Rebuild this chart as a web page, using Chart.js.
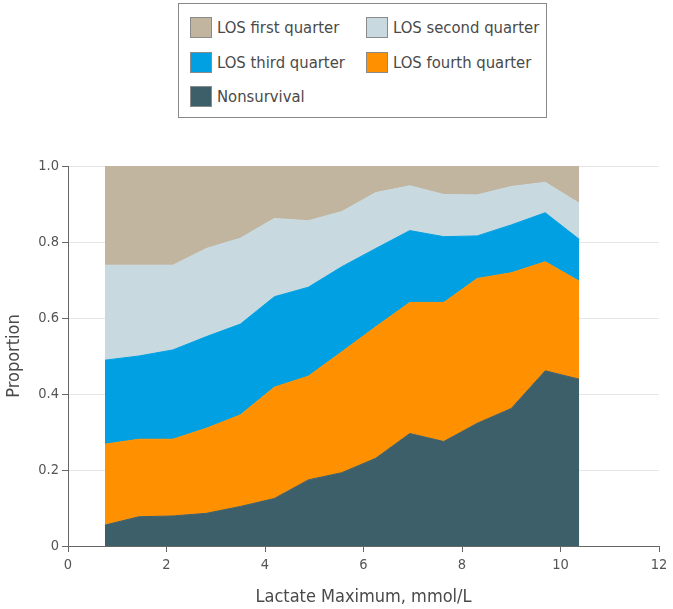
<!DOCTYPE html>
<html>
<head>
<meta charset="utf-8">
<script src="https://cdn.jsdelivr.net/npm/chart.js@4/dist/chart.umd.min.js"></script>
<style>
  body { margin: 0; background: #fff; }
  #wrap { position: relative; width: 673px; height: 609px; }
  #chart { position: absolute; left: 0; top: 0; }
  #legend {
    position: absolute; left: 178px; top: 3px; width: 369px; height: 115px;
    box-sizing: border-box; border: 1px solid #888; background: #fff;
    font-family: "DejaVu Sans Condensed", "DejaVu Sans", sans-serif; font-size: 16.5px; color: #4a4a4a;
  }
  #legend .item { position: absolute; height: 22px; line-height: 22px; white-space: nowrap; }
  #legend .sw { position: absolute; left: 0; top: 0; width: 20px; height: 19px; border: 1px solid #8a8a8a; }
  #legend .lbl { position: absolute; left: 27px; top: 0; }
</style>
</head>
<body>
<div id="wrap">
  <canvas id="chart" width="673" height="609"></canvas>
  <div id="legend"></div>
</div>
<script>
// lactate maximum (mmol/L) at each point
const lactate = [0.75, 1.44, 2.13, 2.81, 3.50, 4.19, 4.88, 5.56, 6.25, 6.94, 7.63, 8.31, 9.00, 9.69, 10.38];

// proportions per group (stacked from bottom up)
const nonsurvival = [0.055, 0.077, 0.079, 0.086, 0.104, 0.125, 0.174, 0.193, 0.231, 0.296, 0.275, 0.323, 0.362, 0.461, 0.439];
const losFourth   = [0.213, 0.204, 0.202, 0.224, 0.241, 0.293, 0.273, 0.318, 0.346, 0.345, 0.366, 0.381, 0.357, 0.287, 0.258];
const losThird    = [0.221, 0.219, 0.235, 0.241, 0.239, 0.238, 0.234, 0.224, 0.206, 0.189, 0.173, 0.112, 0.126, 0.129, 0.110];
const losSecond   = [0.250, 0.239, 0.223, 0.232, 0.226, 0.206, 0.175, 0.145, 0.147, 0.118, 0.111, 0.108, 0.101, 0.080, 0.095];
const losFirst    = [0.261, 0.261, 0.261, 0.217, 0.190, 0.138, 0.144, 0.120, 0.070, 0.052, 0.075, 0.076, 0.054, 0.043, 0.098];

const seriesLabels = ['Nonsurvival', 'LOS fourth quarter', 'LOS third quarter', 'LOS second quarter', 'LOS first quarter'];
const seriesColors = ['#3d5f6a', '#ff9100', '#00a0e2', '#c8d9e0', '#c2b59f'];
const seriesValues = [nonsurvival, losFourth, losThird, losSecond, losFirst];

// legend reading order (indexes into the series above)
const legendOrder = [4, 3, 2, 1, 0];

const FONT = '"DejaVu Sans Condensed", "DejaVu Sans", sans-serif';

function toPoints(values){
    var pts = [];
    for (var i = 0; i < lactate.length; i++) {
        pts.push({x: lactate[i], y: values[i]});
    }
    return pts;
}

function buildLegend(){
    var box = document.getElementById('legend');
    legendOrder.forEach(function(idx, n){
        var col = n % 2, row = Math.floor(n / 2);
        var item = document.createElement('div');
        item.className = 'item';
        item.style.left = (col === 0 ? 11 : 187) + 'px';
        item.style.top = (13 + row * 34.5) + 'px';
        var sw = document.createElement('div');
        sw.className = 'sw';
        sw.style.background = seriesColors[idx];
        var lbl = document.createElement('div');
        lbl.className = 'lbl';
        lbl.textContent = seriesLabels[idx];
        item.appendChild(sw);
        item.appendChild(lbl);
        box.appendChild(item);
    });
}

var datasets = seriesValues.map(function(vals, i){
    return {
        label: seriesLabels[i],
        data: toPoints(vals),
        backgroundColor: seriesColors[i],
        borderColor: seriesColors[i],
        borderWidth: 1,
        pointRadius: 0,
        tension: 0,
        fill: i === 0 ? 'origin' : '-1'
    };
});

const ctx = document.getElementById('chart');
const chart = new Chart(ctx, {
    type: 'line',
    data: { datasets: datasets },
    options: {
        responsive: false,
        animation: false,
        layout: { padding: { left: 4, right: 14, top: 166, bottom: 1 } },
        plugins: {
            legend: { display: false },
            tooltip: { enabled: false }
        },
        scales: {
            x: {
                type: 'linear',
                min: 0, max: 12,
                ticks: { stepSize: 2, color: '#555', font: { family: FONT, size: 14.5 }, padding: 5 },
                grid: { drawOnChartArea: false, tickLength: 6, tickColor: '#666' },
                border: { color: '#666', width: 1 },
                title: { display: true, text: 'Lactate Maximum, mmol/L', color: '#4a4a4a',
                         font: { family: FONT, size: 18 }, padding: { top: 0, bottom: 0 } },
                afterFit: function(scale){ scale.height = 62; }
            },
            y: {
                stacked: true,
                min: 0, max: 1,
                ticks: {
                    stepSize: 0.2, color: '#555', font: { family: FONT, size: 14.5 }, padding: 3,
                    callback: function(v){ return v === 0 ? '0' : v.toFixed(1); }
                },
                grid: { color: '#e6e6e6', tickLength: 6, tickColor: '#666' },
                border: { color: '#666', width: 1 },
                title: { display: true, text: 'Proportion', color: '#4a4a4a',
                         font: { family: FONT, size: 18 }, padding: { top: 0, bottom: 0 } },
                afterFit: function(scale){ scale.width = 64; }
            }
        }
    }
});

buildLegend();
</script>
</body>
</html>
